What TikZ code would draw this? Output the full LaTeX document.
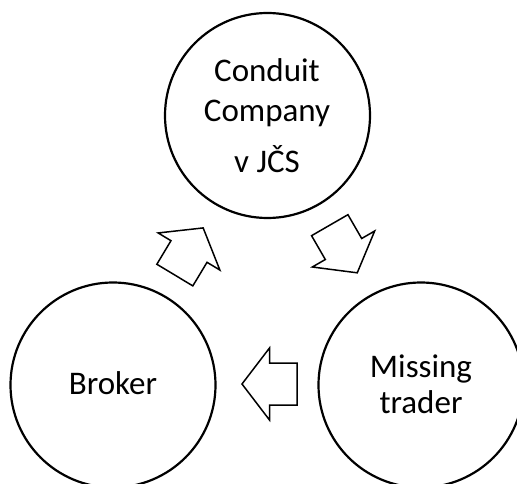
\documentclass[tikz,border=0pt]{standalone}
\usepackage{fontspec}
\setmainfont{Carlito}
\tikzset{
  ring/.style={draw=black, line width=2.2pt, circle, minimum size=205pt, inner sep=0pt},
  label/.style={anchor=base, inner sep=0pt, font=\fontsize{33}{36}\selectfont},
  pics/blockarr/.style={code={
    \draw[line width=1.5pt, line join=miter, fill=white]
      (27.5,0) -- (0,36) -- (0,21) -- (-27.5,21) -- (-27.5,-21) -- (0,-21) -- (0,-36) -- cycle;
  }}
}
\begin{document}
\begin{tikzpicture}[x=1pt, y=1pt]
\useasboundingbox (0,0) rectangle (517,483);
\clip (0,0) rectangle (517,483);
\node[ring] (conduit) at (267.5,367.5) {};
\node[ring] (broker) at (113,98) {};
\node[ring] (missing) at (421,98) {};
\node[label] (t1) at (267,401) {Conduit};
\node[label] (t2) at (267,361) {Company};
\node[label] (t3) at (267,310) {v JČS};
\node[label] (t4) at (113,89) {Broker};
\node[label] (t5) at (421,106) {Missing};
\node[label] (t6) at (421,70) {trader};
\pic[rotate=180] at (269.5,99) {blockarr};
\pic[rotate=59] at (189,231.5) {blockarr};
\pic[rotate=-60] at (343.5,234) {blockarr};
\end{tikzpicture}
\end{document}
